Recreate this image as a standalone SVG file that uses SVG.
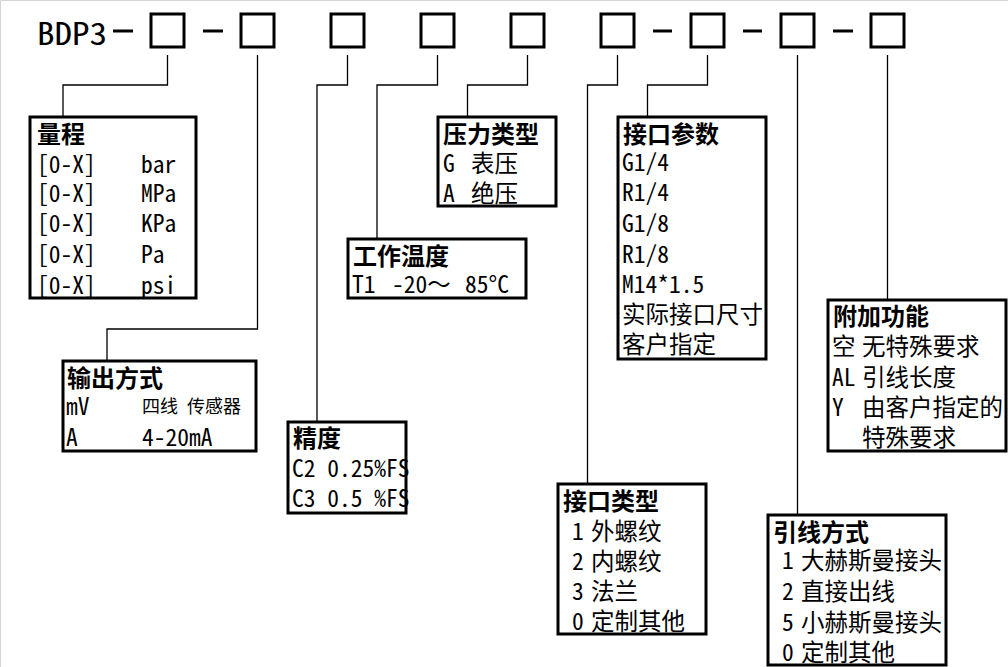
<svg xmlns="http://www.w3.org/2000/svg" width="1008" height="667" viewBox="0 0 1008 667">
<style>
.bg{fill:#ffffff}
.frame{stroke:#d4d4d4;stroke-width:1;fill:none}
.slot{fill:#ffffff;stroke:#000;stroke-width:3}
.box{fill:#ffffff;stroke:#000;stroke-width:3}
.dash{stroke:#000;stroke-width:3}
.conn{fill:none;stroke:#000;stroke-width:1.3}
text{font-family:"Noto Sans Mono CJK SC","Noto Sans CJK SC","Liberation Mono",monospace;fill:#000}
.t{font-size:24px;font-weight:bold}
.b{font-size:23.5px}
.s{font-size:18px}
.h{font-size:31px}
</style>
<rect class="bg" x="0" y="0" width="1008" height="667"/>
<path class="frame" d="M0.5,667 V0.5 H1008"/>

<g id="header">
<text class="h" x="37" y="45" textLength="70" lengthAdjust="spacingAndGlyphs">BDP3</text>
<line class="dash" x1="113" y1="31" x2="133" y2="31"/>
<line class="dash" x1="203" y1="31" x2="223" y2="31"/>
<line class="dash" x1="653" y1="31" x2="672" y2="31"/>
<line class="dash" x1="743" y1="31" x2="762" y2="31"/>
<line class="dash" x1="833" y1="31" x2="853" y2="31"/>
<rect class="slot" x="151" y="14" width="33" height="33"/>
<rect class="slot" x="241" y="14" width="33" height="33"/>
<rect class="slot" x="331" y="14" width="33" height="33"/>
<rect class="slot" x="421" y="14" width="33" height="33"/>
<rect class="slot" x="511" y="14" width="33" height="33"/>
<rect class="slot" x="601" y="14" width="33" height="33"/>
<rect class="slot" x="691" y="14" width="33" height="33"/>
<rect class="slot" x="781" y="14" width="33" height="33"/>
<rect class="slot" x="871" y="14" width="33" height="33"/>
</g>

<g id="connectors">
<polyline class="conn" points="167.5,55 167.5,85 63,85 63,116"/>
<polyline class="conn" points="257.5,55 257.5,329 107,329 107,360"/>
<polyline class="conn" points="347.5,55 347.5,85 317,85 317,421"/>
<polyline class="conn" points="437.5,55 437.5,85 377,85 377,238"/>
<polyline class="conn" points="527.5,55 527.5,85 467.5,85 467.5,116"/>
<polyline class="conn" points="617.5,55 617.5,85 587.5,85 587.5,483"/>
<polyline class="conn" points="707.5,55 707.5,85 647.5,85 647.5,116"/>
<polyline class="conn" points="797.5,55 797.5,514"/>
<polyline class="conn" points="887.5,55 887.5,299"/>
</g>

<g id="range">
<rect class="box" x="30" y="117" width="166" height="181"/>
<text class="t" x="37" y="143">量程</text>
<text class="b" x="37" y="173">[0-X]</text><text class="b" x="141" y="173">bar</text>
<text class="b" x="37" y="202">[0-X]</text><text class="b" x="141" y="202">MPa</text>
<text class="b" x="37" y="232">[0-X]</text><text class="b" x="141" y="232">KPa</text>
<text class="b" x="37" y="263">[0-X]</text><text class="b" x="141" y="263">Pa</text>
<text class="b" x="37" y="294">[0-X]</text><text class="b" x="141" y="294">psi</text>
</g>

<g id="output">
<rect class="box" x="63" y="361" width="193" height="90"/>
<text class="t" x="67" y="387">输出方式</text>
<text class="b" x="66" y="415">mV</text><text class="s" x="142" y="413">四线 传感器</text>
<text class="b" x="66" y="446">A</text><text class="b" x="142" y="446">4-20mA</text>
</g>

<g id="accuracy">
<rect class="box" x="288" y="422" width="118" height="91"/>
<text class="t" x="293" y="447">精度</text>
<text class="b" x="292" y="477">C2 0.25%FS</text>
<text class="b" x="292" y="507">C3 0.5 %FS</text>
</g>

<g id="temperature">
<rect class="box" x="348" y="239" width="178" height="59"/>
<text class="t" x="353" y="265">工作温度</text>
<text class="b" x="352" y="293">T1</text><text class="b" x="392" y="293">-20～</text><text class="b" x="465" y="293">85°C</text>
</g>

<g id="pressure-type">
<rect class="box" x="438" y="117" width="118" height="89"/>
<text class="t" x="443" y="143">压力类型</text>
<text class="b" x="443" y="172">G</text><text class="b" x="471" y="172">表压</text>
<text class="b" x="443" y="202">A</text><text class="b" x="471" y="202">绝压</text>
</g>

<g id="port-params">
<rect class="box" x="618" y="117" width="148" height="242"/>
<text class="t" x="623" y="143">接口参数</text>
<text class="b" x="622" y="171">G1/4</text>
<text class="b" x="622" y="201">R1/4</text>
<text class="b" x="622" y="232">G1/8</text>
<text class="b" x="622" y="263">R1/8</text>
<text class="b" x="622" y="293">M14*1.5</text>
<text class="b" x="622" y="323">实际接口尺寸</text>
<text class="b" x="622" y="353">客户指定</text>
</g>

<g id="extra">
<rect class="box" x="828" y="300" width="178" height="151"/>
<text class="t" x="833" y="325">附加功能</text>
<text class="b" x="832" y="355">空</text><text class="b" x="862" y="355">无特殊要求</text>
<text class="b" x="832" y="386">AL</text><text class="b" x="862" y="386">引线长度</text>
<text class="b" x="832" y="416">Y</text><text class="b" x="862" y="416">由客户指定的</text>
<text class="b" x="862" y="446">特殊要求</text>
</g>

<g id="port-type">
<rect class="box" x="558" y="484" width="148" height="150"/>
<text class="t" x="563" y="510">接口类型</text>
<text class="b" x="572" y="540">1</text><text class="b" x="591" y="540">外螺纹</text>
<text class="b" x="572" y="570">2</text><text class="b" x="591" y="570">内螺纹</text>
<text class="b" x="572" y="600">3</text><text class="b" x="591" y="600">法兰</text>
<text class="b" x="572" y="630">0</text><text class="b" x="591" y="630">定制其他</text>
</g>

<g id="wire-type">
<rect class="box" x="768" y="515" width="178" height="150"/>
<text class="t" x="773" y="541">引线方式</text>
<text class="b" x="782" y="569">1</text><text class="b" x="801" y="569">大赫斯曼接头</text>
<text class="b" x="782" y="600">2</text><text class="b" x="801" y="600">直接出线</text>
<text class="b" x="782" y="631">5</text><text class="b" x="801" y="631">小赫斯曼接头</text>
<text class="b" x="782" y="661">0</text><text class="b" x="801" y="661">定制其他</text>
</g>
</svg>
